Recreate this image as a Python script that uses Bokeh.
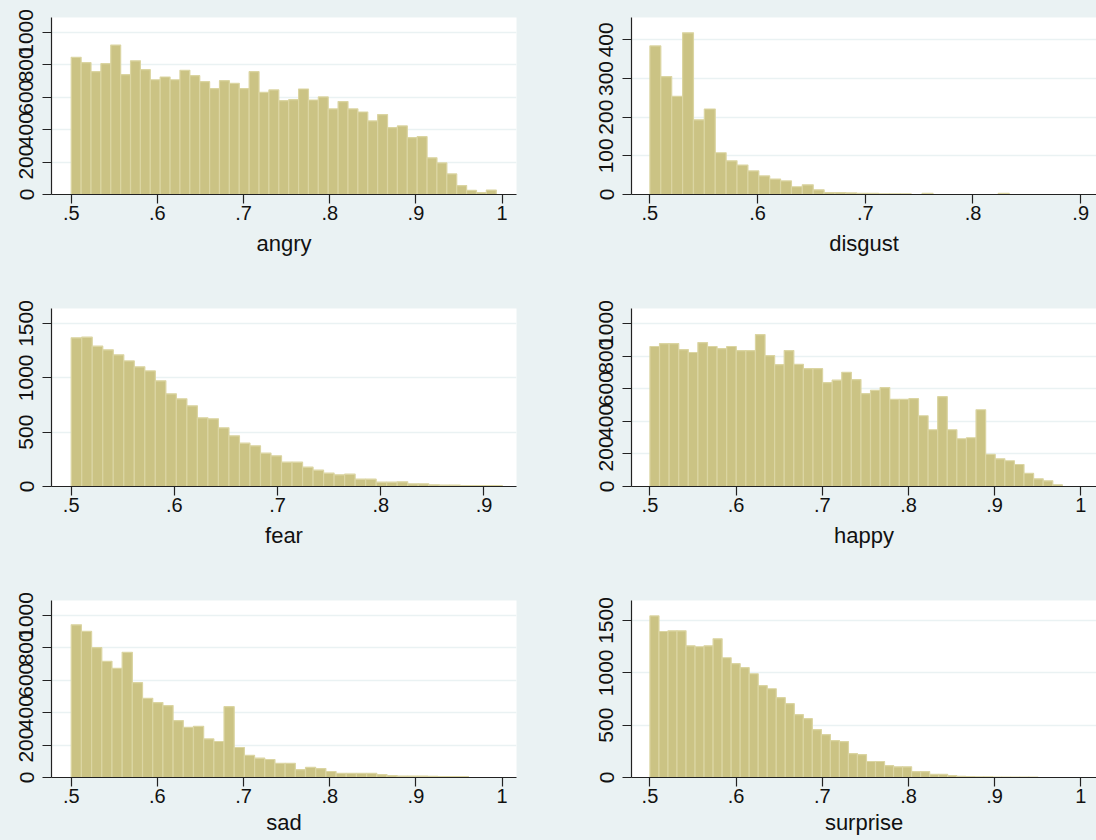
from bokeh.plotting import figure
from bokeh.layouts import gridplot
from bokeh.models import FixedTicker, Range1d
from bokeh.embed import file_html
from bokeh.resources import INLINE

# ---------------- data ----------------
BIN_START = 0.5

angry_counts = [846, 813, 758, 807, 922, 739, 825, 770, 708, 725, 708, 766, 733, 696, 653,
                702, 686, 653, 758, 630, 645, 579, 585, 651, 583, 602, 528, 573, 528, 509,
                454, 493, 413, 423, 351, 357, 226, 195, 127, 55, 25, 12, 27]
angry_bin_width = 0.01147

disgust_counts = [384, 305, 254, 418, 193, 221, 108, 87, 76, 61, 48, 40, 35, 20, 25, 12,
                  5, 5, 4, 3, 3, 2, 2, 2, 0, 3, 0, 0, 0, 0, 0, 0, 3]
disgust_bin_width = 0.01011

fear_counts = [1368, 1374, 1291, 1258, 1212, 1156, 1101, 1064, 972, 853, 807, 742, 632, 623,
               540, 466, 399, 374, 307, 282, 224, 224, 178, 150, 123, 107, 113, 67, 67, 40,
               40, 43, 25, 25, 15, 12, 12, 9, 9, 8, 8]
fear_bin_width = 0.01019

happy_counts = [859, 877, 877, 840, 822, 883, 859, 846, 859, 834, 834, 932, 803, 748, 834,
                750, 723, 723, 637, 652, 701, 656, 570, 590, 607, 535, 535, 539, 434, 348,
                551, 348, 293, 299, 471, 197, 170, 158, 135, 80, 47, 35, 10]
happy_bin_width = 0.01113

sad_counts = [942, 901, 801, 717, 674, 772, 585, 489, 462, 444, 351, 310, 316, 238, 222,
              437, 185, 136, 119, 111, 88, 88, 49, 62, 55, 37, 25, 25, 25, 25, 18, 12, 8,
              8, 8, 7, 6, 6, 6]
sad_bin_width = 0.01182

surprise_counts = [1544, 1395, 1401, 1401, 1258, 1249, 1258, 1325, 1144, 1087, 1049, 991,
                   877, 848, 763, 705, 601, 562, 458, 410, 353, 343, 229, 219, 153, 153,
                   114, 102, 102, 57, 57, 29, 29, 19, 10, 8, 7, 6, 5, 4, 4, 4, 4]
surprise_bin_width = 0.01047

x_ticks_to_1 = [0.5, 0.6, 0.7, 0.8, 0.9, 1.0]
x_labels_to_1 = [".5", ".6", ".7", ".8", ".9", "1"]
x_ticks_to_09 = [0.5, 0.6, 0.7, 0.8, 0.9]
x_labels_to_09 = [".5", ".6", ".7", ".8", ".9"]

y_ticks_1000 = [0, 200, 400, 600, 800, 1000]
y_ticks_400 = [0, 100, 200, 300, 400]
y_ticks_1500 = [0, 500, 1000, 1500]

# ---------------- style ----------------
BG = "#EAF2F3"
BAR_FILL = "#CBC384"
BAR_LINE = "#DBD5A2"
AXIS_COL = "#222222"
TEXT_COL = "#111111"
FONT = "Liberation Sans"

ROW_H = [280, 280, 280]
ROW_TOP = [17, 28, 40]
ROW_BOTTOM = [86, 74, 63]


def make_panel(title, counts, bw, xt, xl, yt, xr, yr, col, row):
    p = figure(width=548, height=ROW_H[row],
               x_range=Range1d(*xr), y_range=Range1d(*yr),
               output_backend="svg", toolbar_location=None, tools="",
               min_border_left=(51 if col == 0 else 83),
               min_border_right=(32 if col == 0 else 0),
               min_border_top=ROW_TOP[row], min_border_bottom=ROW_BOTTOM[row],
               background_fill_color="white", border_fill_color=BG,
               outline_line_color=None)
    n = len(counts)
    lefts = [BIN_START + i * bw for i in range(n)]
    rights = [BIN_START + (i + 1) * bw for i in range(n)]
    p.quad(left=lefts, right=rights, bottom=0, top=counts,
           fill_color=BAR_FILL, line_color=BAR_LINE, line_width=1.2)

    p.xgrid.visible = False
    p.ygrid.ticker = FixedTicker(ticks=yt)
    p.ygrid.grid_line_color = BG
    p.ygrid.grid_line_width = 1.5

    for ax in (p.xaxis[0], p.yaxis[0]):
        ax.axis_line_color = AXIS_COL
        ax.axis_line_width = 1.2
        ax.major_tick_line_color = AXIS_COL
        ax.major_tick_line_width = 1.2
        ax.major_tick_out = 9
        ax.major_tick_in = 0
        ax.minor_tick_line_color = None
        ax.major_label_text_font = FONT
        ax.major_label_text_color = TEXT_COL

    xa = p.xaxis[0]
    xa.ticker = FixedTicker(ticks=xt)
    xa.major_label_overrides = {t: l for t, l in zip(xt, xl)}
    xa.major_label_text_font_size = "20px"
    xa.major_label_standoff = 2
    xa.axis_label = title
    xa.axis_label_text_font = FONT
    xa.axis_label_text_font_size = "22px"
    xa.axis_label_text_font_style = "normal"
    xa.axis_label_text_color = TEXT_COL
    xa.axis_label_standoff = 8 if row < 2 else 4

    ya = p.yaxis[0]
    ya.ticker = FixedTicker(ticks=yt)
    ya.major_label_overrides = {t: str(t) for t in yt}
    ya.major_label_text_font_size = "21px"
    ya.major_label_orientation = "vertical"
    ya.major_label_standoff = 9
    return p


p1 = make_panel("angry", angry_counts, angry_bin_width, x_ticks_to_1, x_labels_to_1,
                y_ticks_1000, (0.4771, 1.0167), (0, 1092), 0, 0)
p2 = make_panel("disgust", disgust_counts, disgust_bin_width, x_ticks_to_09, x_labels_to_09,
                y_ticks_400, (0.4829, 0.9147), (0, 457.6), 1, 0)
p3 = make_panel("fear", fear_counts, fear_bin_width, x_ticks_to_09, x_labels_to_09,
                y_ticks_1500, (0.4809, 0.9315), (0, 1638), 0, 1)
p4 = make_panel("happy", happy_counts, happy_bin_width, x_ticks_to_1, x_labels_to_1,
                y_ticks_1000, (0.4786, 1.0182), (0, 1092), 1, 1)
p5 = make_panel("sad", sad_counts, sad_bin_width, x_ticks_to_1, x_labels_to_1,
                y_ticks_1000, (0.4771, 1.0167), (0, 1092), 0, 2)
p6 = make_panel("surprise", surprise_counts, surprise_bin_width, x_ticks_to_1, x_labels_to_1,
                y_ticks_1500, (0.4786, 1.0182), (0, 1691), 1, 2)

grid = gridplot([[p1, p2], [p3, p4], [p5, p6]], toolbar_location=None)
grid.styles = {"background-color": BG}

open("out.html", "w").write(file_html(grid, INLINE))
